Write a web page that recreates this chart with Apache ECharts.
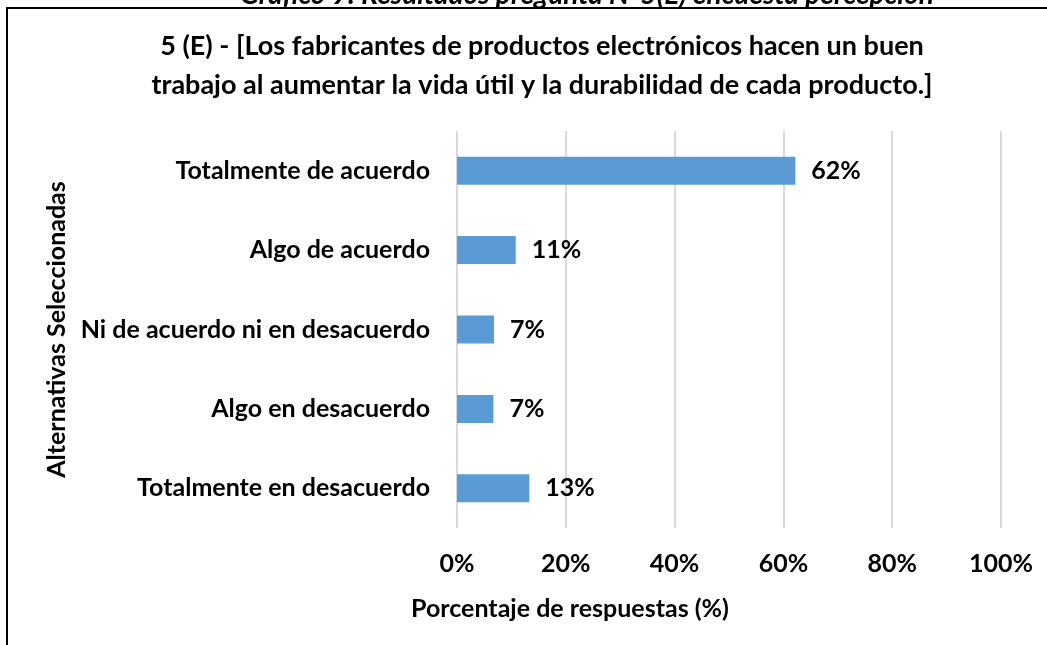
<!DOCTYPE html>
<html>
<head>
<meta charset="utf-8">
<script src="https://cdn.jsdelivr.net/npm/echarts@6/dist/echarts.min.js"></script>
<style>
  html, body { margin: 0; padding: 0; background: #fff; }
  #chart { width: 1047px; height: 645px; }
</style>
</head>
<body>
<div id="chart"></div>
<script>
// datos
var categorias = [
  'Totalmente de acuerdo',
  'Algo de acuerdo',
  'Ni de acuerdo ni en desacuerdo',
  'Algo en desacuerdo',
  'Totalmente en desacuerdo'
];
var porcentajes = [62.2, 10.8, 6.8, 6.7, 13.3];
var ticksX = [0, 20, 40, 60, 80, 100];

var fuente = 'Lato, "Open Sans", sans-serif';
var myChart = echarts.init(document.getElementById('chart'));

var option = {
  backgroundColor: '#fff',
  textStyle: { fontFamily: fuente },
  title: [
    {
      text: '5 (E) - [Los fabricantes de productos electrónicos hacen un buen\ntrabajo al aumentar la vida útil y la durabilidad de cada producto.]',
      left: 537,
      top: 22,
      textAlign: 'center',
      textStyle: { fontFamily: fuente, fontSize: 27, fontWeight: 'bold', color: '#000', lineHeight: 39 }
    },
    {
      // titulo del eje horizontal (Excel lo centra distinto)
      text: 'Porcentaje de respuestas (%)',
      left: 565,
      top: 591,
      textAlign: 'center',
      textStyle: { fontFamily: fuente, fontSize: 25, fontWeight: 'bold', color: '#000' }
    }
  ],
  graphic: [
    {
      type: 'text',
      x: 587,
      y: -19,
      style: {
        text: 'Gráfico 9: Resultados pregunta N°5(E) encuesta percepción',
        font: 'italic bold 28px ' + fuente,
        fill: '#000',
        align: 'center',
        verticalAlign: 'top'
      }
    },
    {
      type: 'polyline',
      shape: { points: [[7, 645], [7, 8], [1047, 8]] },
      style: { stroke: '#000', lineWidth: 2, fill: null }
    }
  ],
  grid: {
    left: 457,
    right: 46,
    top: 131,
    bottom: 117,
    outerBoundsMode: 'none'
  },
  xAxis: {
    type: 'value',
    min: ticksX[0],
    max: ticksX[ticksX.length - 1],
    interval: ticksX[1] - ticksX[0],
    axisLine: { show: false },
    axisTick: { show: false },
    splitLine: { lineStyle: { color: '#d9d9d9', width: 2 } },
    axisLabel: {
      formatter: '{value}%',
      margin: 23,
      fontFamily: fuente,
      fontSize: 25,
      fontWeight: 'bold',
      color: '#000'
    }
  },
  yAxis: {
    type: 'category',
    data: categorias,
    inverse: true,
    name: 'Alternativas Seleccionadas',
    nameLocation: 'middle',
    nameRotate: 90,
    nameGap: 385,
    nameTextStyle: { fontFamily: fuente, fontSize: 25, fontWeight: 'bold', color: '#000' },
    axisLine: { show: false },
    axisTick: { show: false },
    axisLabel: {
      margin: 27,
      fontFamily: fuente,
      fontSize: 25,
      fontWeight: 'bold',
      color: '#000'
    }
  },
  series: [
    {
      type: 'bar',
      data: porcentajes,
      barWidth: 28,
      itemStyle: { color: '#5b9bd5' },
      label: {
        show: true,
        position: 'right',
        distance: 16,
        formatter: function (p) { return Math.round(p.value) + '%'; },
        fontFamily: fuente,
        fontSize: 25,
        fontWeight: 'bold',
        color: '#000'
      }
    }
  ],
  animation: false
};

myChart.setOption(option);
</script>
</body>
</html>
